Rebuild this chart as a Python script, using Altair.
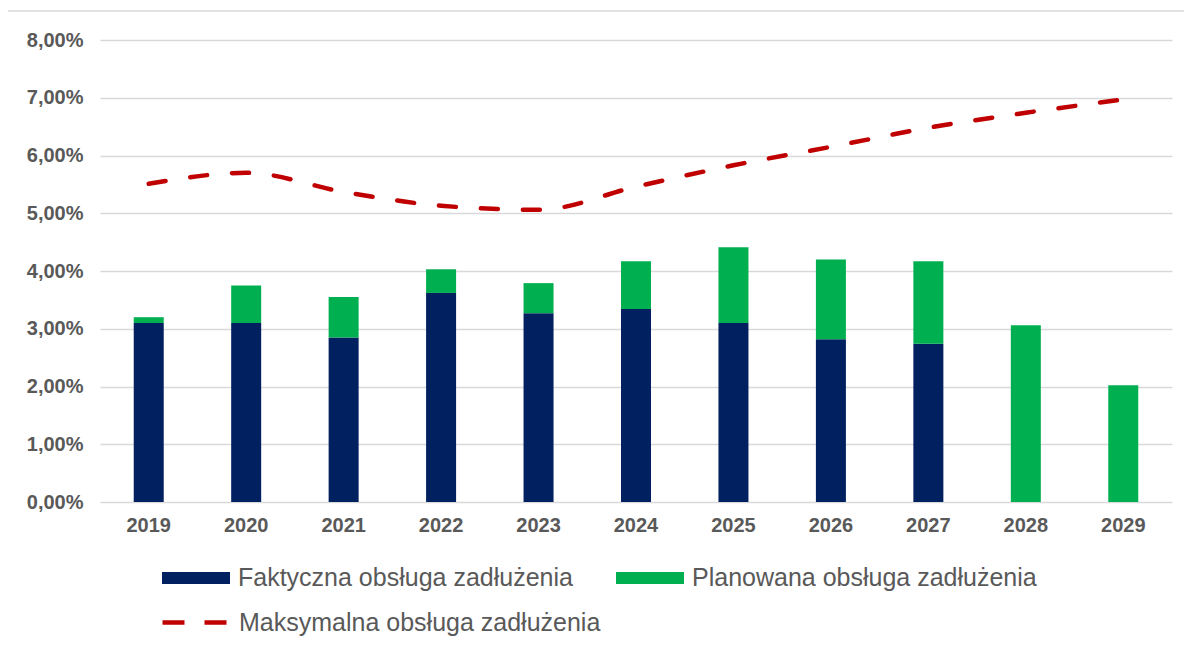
import altair as alt
import pandas as pd

years = ["2019", "2020", "2021", "2022", "2023", "2024", "2025", "2026", "2027", "2028", "2029"]
faktyczna = [3.10, 3.10, 2.85, 3.62, 3.27, 3.34, 3.10, 2.82, 2.74, 0.0, 0.0]
planowana = [0.10, 0.65, 0.70, 0.41, 0.52, 0.83, 1.31, 1.38, 1.43, 3.06, 2.02]
maksymalna = [5.51, 5.70, 5.37, 5.13, 5.06, 5.46, 5.83, 6.15, 6.48, 6.74, 6.97]
y_ticks = [0, 1, 2, 3, 4, 5, 6, 7, 8]

S_F = "Faktyczna obsługa zadłużenia"
S_P = "Planowana obsługa zadłużenia"
S_M = "Maksymalna obsługa zadłużenia"

BLUE = "#002060"
GREEN = "#00B050"
RED = "#C00000"
GRAY_TXT = "#595959"
GRID = "#D9D9D9"
FONT = "Liberation Sans"

bars_df = pd.DataFrame({
    "year": years * 2,
    "value": faktyczna + planowana,
    "series": [S_F] * len(years) + [S_P] * len(years),
    "ord": [0] * len(years) + [1] * len(years),
})
line_df = pd.DataFrame({"year": years, "value": maksymalna, "series": [S_M] * len(years)})

x_enc = alt.X(
    "year:N", title=None, sort=years,
    scale=alt.Scale(paddingInner=0.69, paddingOuter=0.345),
    axis=alt.Axis(labelAngle=0, labelFont=FONT, labelFontSize=20, labelFontWeight="bold",
                  labelColor=GRAY_TXT, labelPadding=13, domain=False, ticks=False, grid=False),
)
y_axis = alt.Axis(values=y_ticks, labelExpr="replace(format(datum.value, '.2f'), '.', ',') + '%'",
                  labelFont=FONT, labelFontSize=20, labelFontWeight="bold", labelColor=GRAY_TXT,
                  labelPadding=17, domain=False, ticks=False, grid=True, gridColor=GRID,
                  gridWidth=1.6, title=None)
y_scale = alt.Scale(domain=[0, 8], nice=False)

bars = alt.Chart(bars_df).mark_bar(size=30).encode(
    x=x_enc,
    y=alt.Y("value:Q", stack="zero", scale=y_scale, axis=y_axis),
    order=alt.Order("ord:Q", sort="ascending"),
    color=alt.Color("series:N", scale=alt.Scale(domain=[S_F, S_P], range=[BLUE, GREEN]),
                    legend=alt.Legend(title=None, orient="none", legendX=62, legendY=504,
                                      columns=2, columnPadding=43, labelOffset=8,
                                      symbolType="M-1,-0.18H1V0.18H-1Z", symbolSize=4624,
                                      symbolStrokeWidth=0, labelFont=FONT, labelFontSize=25,
                                      labelColor=GRAY_TXT, labelLimit=600, padding=0)),
)

line = alt.Chart(line_df).mark_line(strokeWidth=4.5, strokeDash=[17, 25], strokeCap="round",
                                    interpolate="monotone").encode(
    x=x_enc,
    y=alt.Y("value:Q", scale=y_scale, axis=y_axis),
    color=alt.Color("series:N", scale=alt.Scale(domain=[S_M], range=[RED]),
                    legend=alt.Legend(title=None, orient="none", legendX=60, legendY=546,
                                      labelOffset=6, symbolType="stroke", symbolSize=4624,
                                      symbolStrokeWidth=4.5, symbolDash=[22, 20],
                                      labelFont=FONT, labelFontSize=25, labelColor=GRAY_TXT,
                                      labelLimit=600, padding=0)),
)

one = alt.Data(values=[{"k": 1}])
border_left = alt.Chart(one).mark_rule(color=GRID, strokeWidth=1.5).encode(
    x=alt.value(-93), y=alt.value(-29), y2=alt.value(700))
border_top = alt.Chart(one).mark_rule(color=GRID, strokeWidth=1.5).encode(
    x=alt.value(-93), x2=alt.value(1100), y=alt.value(-29))

chart = alt.layer(bars, line, border_left, border_top).resolve_scale(
    color="independent"
).properties(
    width=1072, height=462,
    padding={"left": 92, "top": 32, "right": 12, "bottom": 138},
    autosize=alt.AutoSizeParams(type="none"),
    background="white",
).configure_view(stroke=None)

chart.save("out.html", embed_options={"renderer": "svg", "actions": False})
